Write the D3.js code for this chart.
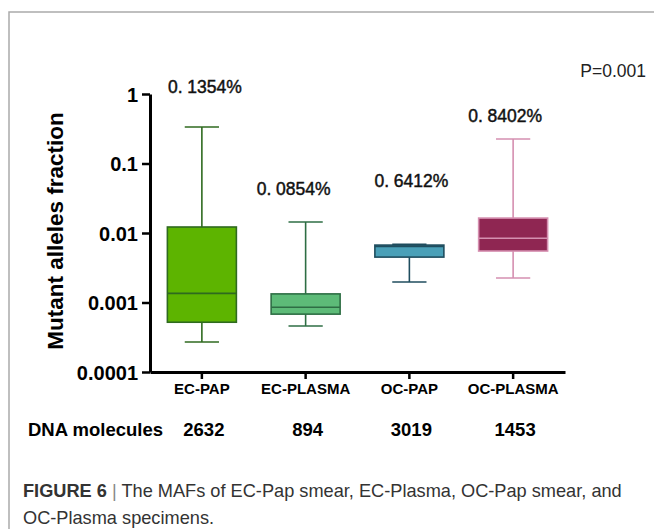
<!DOCTYPE html>
<html>
<head>
<meta charset="utf-8">
<script src="https://cdn.jsdelivr.net/npm/d3@7"></script>
<style>
  body { margin: 0; background: #fff; }
  svg { display: block; }
</style>
</head>
<body>
<svg width="654" height="529"></svg>
<script>
// groups and box stats
const groups = ['EC-PAP', 'EC-PLASMA', 'OC-PAP', 'OC-PLASMA'];
const mins    = [0.00027, 0.00046, 0.00197, 0.00225];
const q1s     = [0.00052, 0.00068, 0.0045, 0.0055];
const medians = [0.001354, 0.000854, 0.006412, 0.008402];
const q3s     = [0.0122, 0.00133, 0.0067, 0.0164];
const maxs    = [0.335, 0.0144, 0.0069, 0.225];
const medianLabels = ['0. 1354%', '0. 0854%', '0. 6412%', '0. 8402%'];
const labelAt = [1.03, 0.035, 0.0455, 0.394];   // where each label sits on the y axis
const labelShift = [3, -12, 2, -8];
const molecules = ['2632', '894', '3019', '1453'];
const yTicks = [1, 0.1, 0.01, 0.001, 0.0001];
const tickText = ['1', '0.1', '0.01', '0.001', '0.0001'];

const fills   = ['#5db400', '#5dbb78', '#4aa0b8', '#8f2652'];
const strokes = ['#2f6a1f', '#2e6e44', '#1f4d5e', '#d58fb0'];

const svg = d3.select('svg');

// frame (top + left only)
svg.append('path')
  .attr('d', 'M9,529V12H654')
  .attr('fill', 'none')
  .attr('stroke', '#aaa')
  .attr('stroke-width', 1.5);

const x = d3.scaleBand().domain(groups).range([150, 565]).padding(0);
const y = d3.scaleLog().domain([0.0001, 1]).range([372, 94]);

// y axis
const yAxis = svg.append('g')
  .attr('transform', 'translate(150,0)')
  .call(d3.axisLeft(y).tickValues(yTicks).tickFormat((d, i) => tickText[i]).tickSize(8).tickSizeOuter(0));
yAxis.select('.domain').attr('stroke', '#000').attr('stroke-width', 3);
yAxis.selectAll('.tick line').attr('stroke', '#000').attr('stroke-width', 2.5);
yAxis.selectAll('.tick text')
  .attr('x', -12)
  .attr('dy', '0.36em')
  .style('font-family', 'Liberation Sans, Arial, sans-serif')
  .style('font-weight', 'bold')
  .style('font-size', '20px')
  .attr('fill', '#000');

// x axis
const xAxis = svg.append('g')
  .attr('transform', 'translate(0,372)')
  .call(d3.axisBottom(x).tickSize(7).tickSizeOuter(0));
xAxis.select('.domain').attr('stroke', '#000').attr('stroke-width', 3);
xAxis.selectAll('.tick line').attr('stroke', '#000').attr('stroke-width', 2.5);
xAxis.selectAll('.tick text')
  .attr('y', 11)
  .style('font-family', 'Liberation Sans, Arial, sans-serif')
  .style('font-weight', 'bold')
  .style('font-size', '15px')
  .attr('fill', '#000');

// y label
svg.append('text')
  .attr('transform', 'translate(63,231) rotate(-90)')
  .attr('text-anchor', 'middle')
  .style('font-family', 'Liberation Sans, Arial, sans-serif')
  .style('font-weight', 'bold')
  .style('font-size', '22.5px')
  .text('Mutant alleles fraction');

// boxes
const bw = x.bandwidth() * 0.665;
const cw = x.bandwidth() * 0.33;
const box = svg.selectAll('g.box')
  .data(groups)
  .enter().append('g')
  .attr('class', 'box')
  .attr('transform', d => `translate(${x(d) + x.bandwidth() / 2},0)`);

box.append('line')
  .attr('y1', (d, i) => y(maxs[i])).attr('y2', (d, i) => y(q3s[i]))
  .attr('stroke', (d, i) => strokes[i]).attr('stroke-width', 1.6);
box.append('line')
  .attr('y1', (d, i) => y(q1s[i])).attr('y2', (d, i) => y(mins[i]))
  .attr('stroke', (d, i) => strokes[i]).attr('stroke-width', 1.6);
box.append('line')
  .attr('x1', -cw / 2).attr('x2', cw / 2)
  .attr('y1', (d, i) => y(maxs[i])).attr('y2', (d, i) => y(maxs[i]))
  .attr('stroke', (d, i) => strokes[i]).attr('stroke-width', 1.6);
box.append('line')
  .attr('x1', -cw / 2).attr('x2', cw / 2)
  .attr('y1', (d, i) => y(mins[i])).attr('y2', (d, i) => y(mins[i]))
  .attr('stroke', (d, i) => strokes[i]).attr('stroke-width', 1.6);
box.append('rect')
  .attr('x', -bw / 2).attr('width', bw)
  .attr('y', (d, i) => y(q3s[i]))
  .attr('height', (d, i) => y(q1s[i]) - y(q3s[i]))
  .attr('fill', (d, i) => fills[i])
  .attr('stroke', (d, i) => strokes[i]).attr('stroke-width', 1.6);
box.append('line')
  .attr('x1', -bw / 2).attr('x2', bw / 2)
  .attr('y1', (d, i) => y(medians[i])).attr('y2', (d, i) => y(medians[i]))
  .attr('stroke', (d, i) => strokes[i]).attr('stroke-width', 1.6);

// median labels
box.append('text')
  .attr('x', (d, i) => labelShift[i])
  .attr('y', (d, i) => y(labelAt[i]))
  .attr('text-anchor', 'middle')
  .style('font-family', 'Liberation Sans, Arial, sans-serif')
  .style('font-size', '17.5px')
  .attr('fill', '#111')
  .attr('stroke', '#111')
  .attr('stroke-width', 0.45)
  .text((d, i) => medianLabels[i]);

// DNA molecules row
svg.append('text')
  .attr('x', 28).attr('y', 436)
  .style('font-family', 'Liberation Sans, Arial, sans-serif')
  .style('font-weight', 'bold')
  .style('font-size', '18.5px')
  .text('DNA molecules');
svg.selectAll('text.mol')
  .data(molecules)
  .enter().append('text')
  .attr('class', 'mol')
  .attr('x', (d, i) => x(groups[i]) + x.bandwidth() / 2 + 2)
  .attr('y', 436)
  .attr('text-anchor', 'middle')
  .style('font-family', 'Liberation Sans, Arial, sans-serif')
  .style('font-weight', 'bold')
  .style('font-size', '18.5px')
  .text(d => d);

// P value
svg.append('text')
  .attr('x', 646).attr('y', 77)
  .attr('text-anchor', 'end')
  .style('font-family', 'Liberation Sans, Arial, sans-serif')
  .style('font-size', '17.5px')
  .attr('fill', '#222')
  .text('P=0.001');

// caption
const cap = svg.append('text')
  .attr('x', 23).attr('y', 497)
  .style('font-family', 'Liberation Sans, Arial, sans-serif')
  .style('font-size', '18.2px')
  .attr('fill', '#333');
cap.append('tspan').style('font-weight', 'bold').text('FIGURE 6');
cap.append('tspan').attr('fill', '#888').text(' | ');
cap.append('tspan').text('The MAFs of EC-Pap smear, EC-Plasma, OC-Pap smear, and');
svg.append('text')
  .attr('x', 23).attr('y', 524)
  .style('font-family', 'Liberation Sans, Arial, sans-serif')
  .style('font-size', '18.2px')
  .attr('fill', '#333')
  .text('OC-Plasma specimens.');
</script>
</body>
</html>
